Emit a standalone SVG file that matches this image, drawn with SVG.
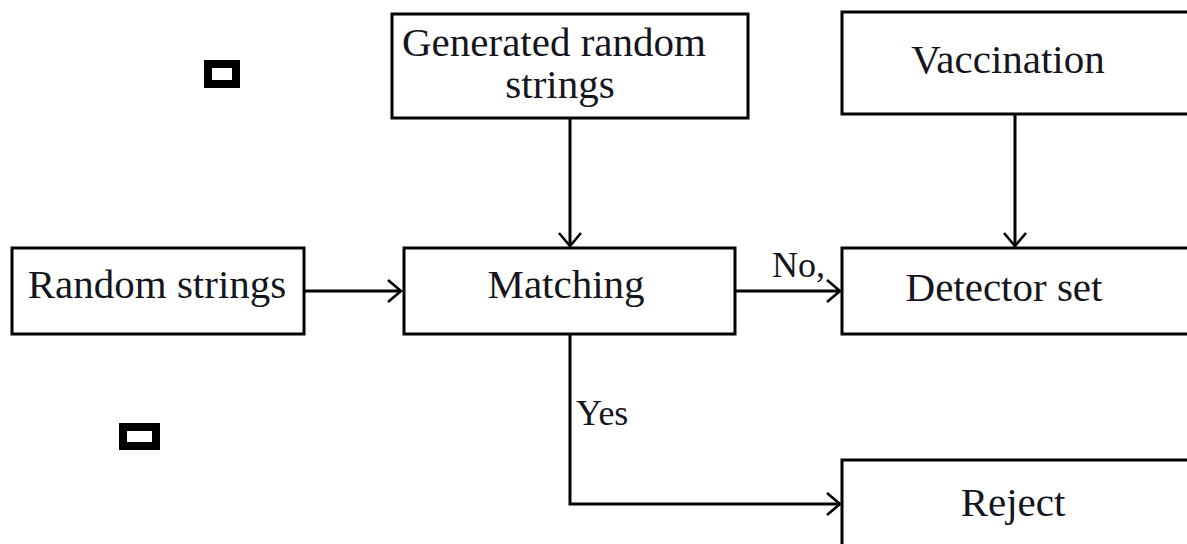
<svg xmlns="http://www.w3.org/2000/svg" width="1187" height="544" viewBox="0 0 1187 544">
  <style>
    .box { fill: #fff; stroke: #000; stroke-width: 3; }
    .mark { fill: #fff; stroke: #000; stroke-width: 8; }
    .lbl { font-family: "Liberation Serif", "Times New Roman", serif; font-size: 41px; fill: #151520; }
    .edge { fill: none; stroke: #000; stroke-width: 3; }
    .elbl { font-family: "Liberation Serif", "Times New Roman", serif; font-size: 36px; fill: #151520; }
  </style>
  <defs>
    <marker id="arrow" viewBox="0 0 16 24" markerWidth="16" markerHeight="24" refX="14" refY="12" orient="auto" markerUnits="userSpaceOnUse">
      <path d="M1,1 L14,12 L1,23" fill="none" stroke="#000" stroke-width="2.6"/>
    </marker>
  </defs>
  <rect width="1187" height="544" fill="#fff"/>

  <!-- small square markers -->
  <rect class="mark" x="208" y="64" width="28" height="20"/>
  <rect class="mark" x="123" y="427" width="33" height="19"/>

  <g id="generated">
    <rect class="box" x="392" y="14" width="356" height="104"/>
    <text class="lbl"><tspan x="402" y="56">Generated random</tspan><tspan x="560" y="98" text-anchor="middle">strings</tspan></text>
  </g>

  <g id="vaccination">
    <rect class="box" x="842" y="12" width="360" height="102"/>
    <text class="lbl" x="1008" y="73" text-anchor="middle">Vaccination</text>
  </g>

  <g id="random">
    <rect class="box" x="12" y="248" width="292" height="86"/>
    <text class="lbl" x="157" y="298" text-anchor="middle">Random strings</text>
  </g>

  <g id="matching">
    <rect class="box" x="404" y="248" width="331" height="86"/>
    <text class="lbl" x="566" y="298" text-anchor="middle">Matching</text>
  </g>

  <g id="detector">
    <rect class="box" x="842" y="248" width="360" height="86"/>
    <text class="lbl" x="1004" y="301" text-anchor="middle">Detector set</text>
  </g>

  <g id="reject">
    <rect class="box" x="842" y="460" width="360" height="100"/>
    <text class="lbl" x="1013" y="516" text-anchor="middle">Reject</text>
  </g>

  <g id="connectors">
    <path class="edge" d="M570,118 L570,246" marker-end="url(#arrow)"/>
    <path class="edge" d="M1015,114 L1015,246" marker-end="url(#arrow)"/>
    <path class="edge" d="M304,291 L401,291" marker-end="url(#arrow)"/>
    <path class="edge" d="M735,291 L840,291" marker-end="url(#arrow)"/>
    <path class="edge" d="M570,334 L570,504 L840,504" marker-end="url(#arrow)"/>
    <text class="elbl" x="772" y="277">No,</text>
    <text class="elbl" x="576" y="425">Yes</text>
  </g>
</svg>
